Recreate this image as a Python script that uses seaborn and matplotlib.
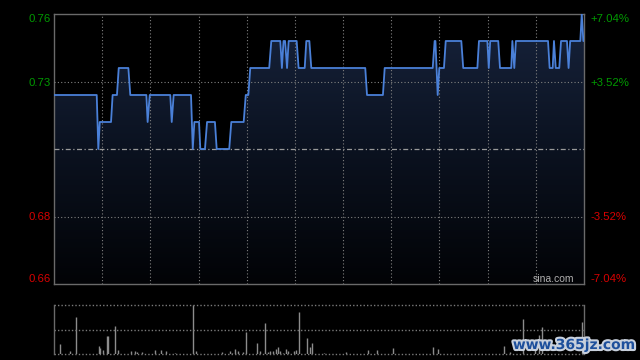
import numpy as np
import pandas as pd
import matplotlib
matplotlib.use("Agg")
import matplotlib.pyplot as plt
import seaborn as sns
from matplotlib.patches import Polygon
from matplotlib.colors import LinearSegmentedColormap
import matplotlib.patheffects as pe

# ---- data (minutes since 9:30 open, 330 trading minutes) ----
price_minutes = [0, 26.6, 27.6, 28.5, 35.5, 36.5, 39.2, 40.3, 46.3, 47.5, 57.5, 58.3, 59.6,
                 72.4, 73.3, 74.5, 85.3, 86.4, 87.4, 90.3, 91.1, 94.0, 95.3, 100.2, 101.3,
                 109.1, 110.4, 118.1, 119.4, 121.0, 122.2, 134.0, 135.3, 140.9, 141.9, 142.9,
                 143.9, 145.1, 146.1, 151.1, 152.3, 156.1, 157.1, 159.0, 160.2, 193.8, 194.9,
                 204.8, 205.9, 235.8, 237.0, 237.5, 238.9, 239.9, 242.8, 243.9, 253.6, 254.8,
                 263.6, 264.6, 269.8, 270.7, 271.6, 276.6, 277.7, 284.7, 285.4, 286.6, 287.6,
                 307.6, 308.6, 310.5, 311.3, 312.4, 314.6, 315.7, 319.4, 320.4, 321.4, 327.7,
                 328.6, 329.6, 330]
price_values = [0.73, 0.73, 0.71, 0.72, 0.72, 0.73, 0.73, 0.74, 0.74, 0.73, 0.73, 0.72, 0.73,
                0.73, 0.72, 0.73, 0.73, 0.71, 0.72, 0.72, 0.71, 0.71, 0.72, 0.72, 0.71,
                0.71, 0.72, 0.72, 0.73, 0.73, 0.74, 0.74, 0.75, 0.75, 0.74, 0.75,
                0.75, 0.74, 0.75, 0.75, 0.74, 0.74, 0.75, 0.75, 0.74, 0.74, 0.73,
                0.73, 0.74, 0.74, 0.75, 0.75, 0.73, 0.74, 0.74, 0.75, 0.75, 0.74,
                0.74, 0.75, 0.75, 0.74, 0.75, 0.75, 0.74, 0.74, 0.75, 0.74, 0.75,
                0.75, 0.74, 0.74, 0.75, 0.74, 0.74, 0.75, 0.75, 0.74, 0.75, 0.75,
                0.76, 0.75, 0.75]

vol_minutes = [3.7, 10.1, 13.9, 28.2, 28.8, 30.7, 33.2, 33.8, 38.2, 40.0, 48.1, 50.6, 51.9,
               55.0, 63.1, 66.8, 69.9, 75.5, 86.7, 88.6, 104.8, 109.8, 111.0, 112.9, 114.7,
               117.9, 119.7, 126.6, 128.4, 131.6, 133.4, 134.7, 136.5, 138.4, 139.7, 140.9,
               142.8, 144.6, 145.9, 149.6, 150.9, 152.7, 157.7, 159.6, 160.8, 168.3, 181.5,
               195.7, 201.3, 211.2, 236.2, 239.3, 280.4, 284.1, 292.2, 299.5, 302.2, 304.0,
               328.9]
vol_values = [0.21, 0.07, 0.76, 0.17, 0.12, 0.09, 0.37, 0.37, 0.57, 0.09, 0.07, 0.07, 0.04,
              0.04, 0.09, 0.09, 0.07, 0.03, 1.00, 0.07, 0.04, 0.07, 0.03, 0.11, 0.07,
              0.05, 0.45, 0.23, 0.07, 0.64, 0.05, 0.07, 0.07, 0.11, 0.15, 0.07,
              0.03, 0.11, 0.07, 0.07, 0.09, 0.86, 0.33, 0.15, 0.23, 0.03, 0.05,
              0.09, 0.09, 0.13, 0.15, 0.11, 0.17, 0.05, 0.72, 0.15, 0.39, 0.55,
              0.66]

prev_close = 0.71
left_tick_values = [0.66, 0.685, 0.735, 0.76]
left_tick_labels = ["0.66", "0.68", "0.73", "0.76"]
right_tick_labels = ["-7.04%", "-3.52%", "+3.52%", "+7.04%"]
tick_colors = ["#d80000", "#d80000", "#009a00", "#009a00"]
grid_minutes = [30, 60, 90, 120, 150, 180, 210, 240, 270, 300]

# ---- style ----
sns.set_style("dark", {"axes.facecolor": "black", "figure.facecolor": "black"})
plt.rcParams["font.family"] = ["Liberation Sans", "DejaVu Sans"]

W, H = 640, 360
fig = plt.figure(figsize=(6.4, 3.6), dpi=100, facecolor="black")
ax = fig.add_axes([54 / W, 76 / H, 530 / W, 270 / H])
ax.set_facecolor("black")

df = pd.DataFrame({"t": price_minutes, "p": price_values})

# gradient fill below the line
verts = list(zip(price_minutes, price_values)) + [(330, 0.66), (0, 0.66)]
poly = Polygon(verts, closed=True, facecolor="none", edgecolor="none")
ax.add_patch(poly)
cmap = LinearSegmentedColormap.from_list("g", ["#020306", "#0b1220", "#17233c"])
grad = np.linspace(0, 1, 256).reshape(-1, 1)
im = ax.imshow(grad, extent=[0, 330, 0.66, 0.76], origin="lower", aspect="auto",
               cmap=cmap, zorder=1)
im.set_clip_path(poly)

sns.lineplot(data=df, x="t", y="p", ax=ax, color="#4a80d8", linewidth=1.3, zorder=5)

ax.set_xlim(0, 330)
ax.set_ylim(0.66, 0.76)

# grid
grid_c = "#808080"
ax.vlines(grid_minutes, 0.66, 0.76, colors=grid_c, linestyles=(0, (1, 2)), linewidth=0.8, zorder=3)
ax.hlines([0.685, 0.735], 0, 330, colors=grid_c, linestyles=(0, (1, 2)), linewidth=0.8, zorder=3)
ax.hlines([prev_close], 0, 330, colors="#9a9a9a", linestyles=(0, (4, 2, 1, 2)), linewidth=0.9, zorder=3)

for s in ax.spines.values():
    s.set_color("#6a6a6a")
    s.set_linewidth(1)
    s.set_visible(True)

ax.set_xticks([])
ax.set_xlabel("")
ax.set_ylabel("")
ax.set_yticks(left_tick_values, left_tick_labels)
ax.tick_params(axis="y", length=0, pad=2.5, labelsize=8.2)
for lbl, c in zip(ax.get_yticklabels(), tick_colors):
    lbl.set_color(c)
ax.get_yticklabels()[0].set_va("bottom")
ax.get_yticklabels()[-1].set_va("top")

ax2 = ax.twinx()
ax2.set_ylim(0.66, 0.76)
ax2.set_yticks(left_tick_values, right_tick_labels)
ax2.tick_params(axis="y", length=0, pad=4.5, labelsize=8.2)
for lbl, c in zip(ax2.get_yticklabels(), tick_colors):
    lbl.set_color(c)
ax2.get_yticklabels()[0].set_va("bottom")
ax2.get_yticklabels()[-1].set_va("top")
for s in ax2.spines.values():
    s.set_visible(False)
ax2.grid(False)
ax.grid(False)

ax.text((574 - 54) / 530, (284 - 279) / 270, "sina.com", transform=ax.transAxes,
        ha="right", va="center", fontsize=7.5, color="#b0b0b0", zorder=6)

# ---- volume panel ----
vax = fig.add_axes([54 / W, 5.7 / H, 530 / W, 49.3 / H])
vax.set_facecolor("black")
vax.vlines(vol_minutes, 0, vol_values, colors="#8c8c8c", linewidth=1)
vax.set_xlim(0, 330)
vax.set_ylim(0, 1)
vax.hlines([0, 0.5, 1.0], 0, 330, colors="#7a7a7a", linestyles=(0, (1, 1.5)),
           linewidth=1, clip_on=False)
vax.spines["top"].set_visible(False)
vax.spines["bottom"].set_visible(False)
for k in ("left", "right"):
    vax.spines[k].set_color("#6a6a6a")
    vax.spines[k].set_linewidth(1)
vax.set_xticks([])
vax.set_yticks([])
vax.grid(False)

fig.text(635 / W, (360 - 345) / H, "www.365jz.com", ha="right", va="center",
         fontsize=10, fontweight="bold", color="#1d4f9c",
         family=["DejaVu Sans"],
         path_effects=[pe.withStroke(linewidth=3, foreground="#c8d0dc")], zorder=10)

fig.savefig("out.png", dpi=100, facecolor="black")
